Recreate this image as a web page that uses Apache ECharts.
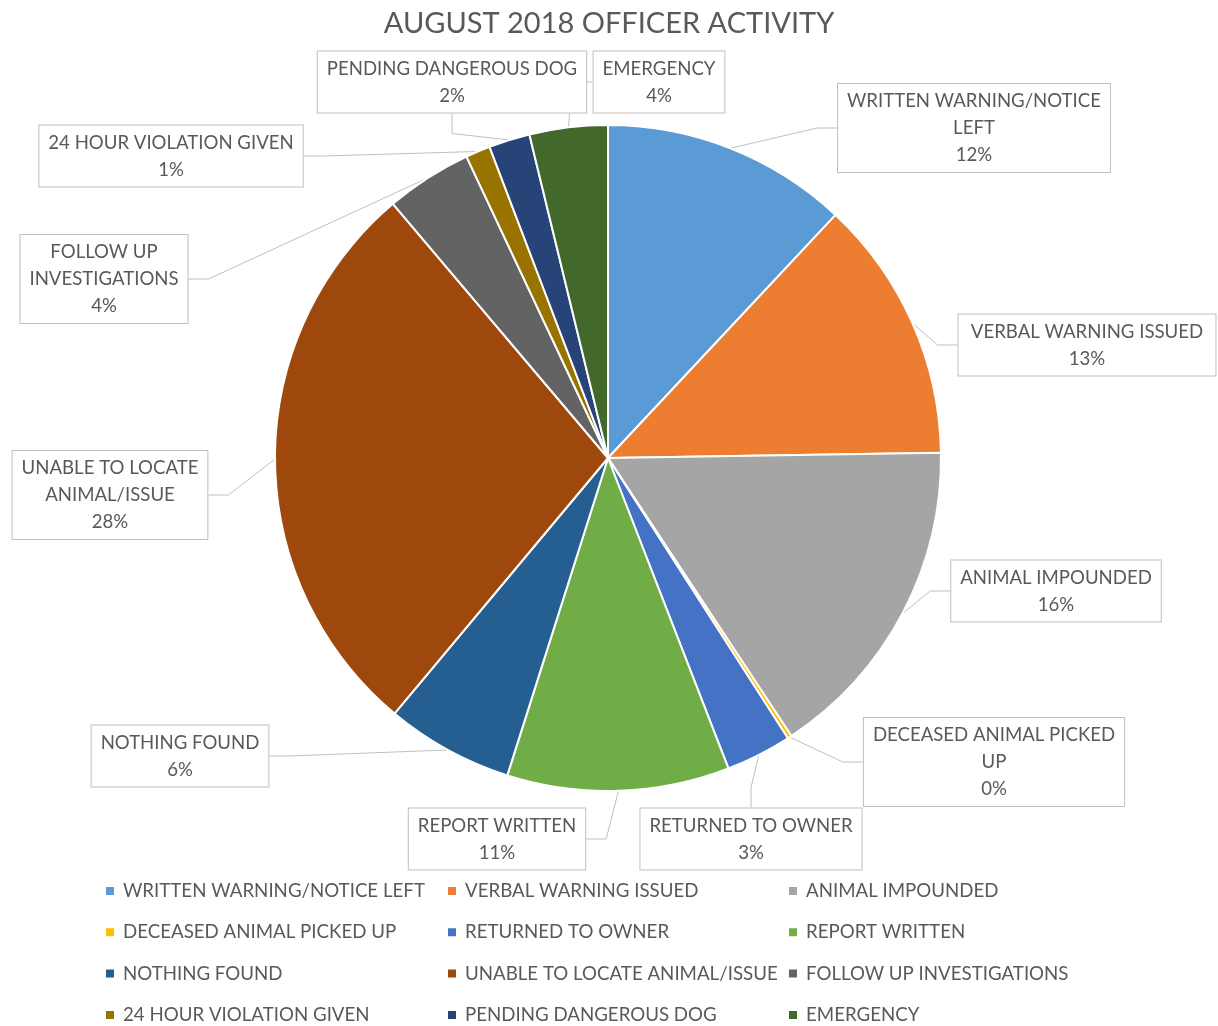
<!DOCTYPE html>
<html>
<head>
<meta charset="utf-8">
<script src="https://cdn.jsdelivr.net/npm/echarts@6/dist/echarts.min.js"></script>
<style>
  html, body { margin: 0; padding: 0; background: #fff; }
  #chart { width: 1218px; height: 1026px; }
</style>
</head>
<body>
<div id="chart"></div>
<script>
const categories = [
  'WRITTEN WARNING/NOTICE LEFT',
  'VERBAL WARNING ISSUED',
  'ANIMAL IMPOUNDED',
  'DECEASED ANIMAL PICKED UP',
  'RETURNED TO OWNER',
  'REPORT WRITTEN',
  'NOTHING FOUND',
  'UNABLE TO LOCATE ANIMAL/ISSUE',
  'FOLLOW UP INVESTIGATIONS',
  '24 HOUR VIOLATION GIVEN',
  'PENDING DANGEROUS DOG',
  'EMERGENCY'
]
const counts = [60, 64, 80, 1, 16, 54, 31, 139, 21, 6, 10, 19]
const colors = ['#5B9BD5', '#ED7D31', '#A5A5A5', '#FFC000', '#4472C4', '#70AD47',
  '#255E91', '#9E480E', '#636363', '#997300', '#264478', '#43682B']

// how the long names wrap inside their boxes
const wrapped = {
  'WRITTEN WARNING/NOTICE LEFT': 'WRITTEN WARNING/NOTICE\nLEFT',
  'DECEASED ANIMAL PICKED UP': 'DECEASED ANIMAL PICKED\nUP',
  'UNABLE TO LOCATE ANIMAL/ISSUE': 'UNABLE TO LOCATE\nANIMAL/ISSUE',
  'FOLLOW UP INVESTIGATIONS': 'FOLLOW UP\nINVESTIGATIONS'
}
// label box centres, same order as categories
const labelSpots = [
  [974, 128], [1087, 345], [1056, 591], [994, 762], [751, 839], [497, 839],
  [180, 756], [110, 495], [104, 279], [171, 156], [452, 82], [659, 82]
]

const FONT = 'Lato'
const GREY = '#595959'

const chart = echarts.init(document.getElementById('chart'))

const legendCols = [0, 1, 2].map(c => categories.filter((n, i) => i % 3 === c))
const legendLeft = [104, 446, 787]

chart.setOption({
  animation: false,
  color: colors,
  title: {
    text: 'AUGUST 2018 OFFICER ACTIVITY',
    left: 'center',
    top: 4,
    textStyle: { color: GREY, fontFamily: FONT, fontSize: 29, fontWeight: 'normal' }
  },
  legend: legendCols.map((col, k) => ({
    orient: 'vertical',
    left: legendLeft[k],
    top: 881,
    padding: 0,
    itemWidth: 10,
    itemHeight: 10,
    itemGap: 21.3,
    icon: 'rect',
    data: col,
    textStyle: { color: GREY, fontFamily: FONT, fontSize: 18.7, lineHeight: 20, padding: [0, 0, 0, 3] }
  })),
  series: [{
    type: 'pie',
    center: [608, 458],
    radius: 333,
    startAngle: 90,
    clockwise: true,
    percentPrecision: 0,
    itemStyle: { borderColor: '#fff', borderWidth: 2 },
    label: {
      show: true,
      formatter: p => (wrapped[p.name] || p.name) + '\n' + p.percent + '%',
      color: GREY,
      fontFamily: FONT,
      fontSize: 18.6,
      lineHeight: 27,
      align: 'center',
      backgroundColor: '#fff',
      borderColor: '#BFBFBF',
      borderWidth: 1,
      padding: [4, 9, 3, 9]
    },
    labelLine: {
      show: true,
      length: 20,
      length2: 20,
      lineStyle: { color: '#BFBFBF', width: 1 }
    },
    labelLayout: p => ({
      x: labelSpots[p.dataIndex][0],
      y: labelSpots[p.dataIndex][1],
      align: 'center',
      verticalAlign: 'middle'
    }),
    emphasis: { disabled: true },
    data: categories.map((n, i) => ({ name: n, value: counts[i] }))
  }]
})
</script>
</body>
</html>
